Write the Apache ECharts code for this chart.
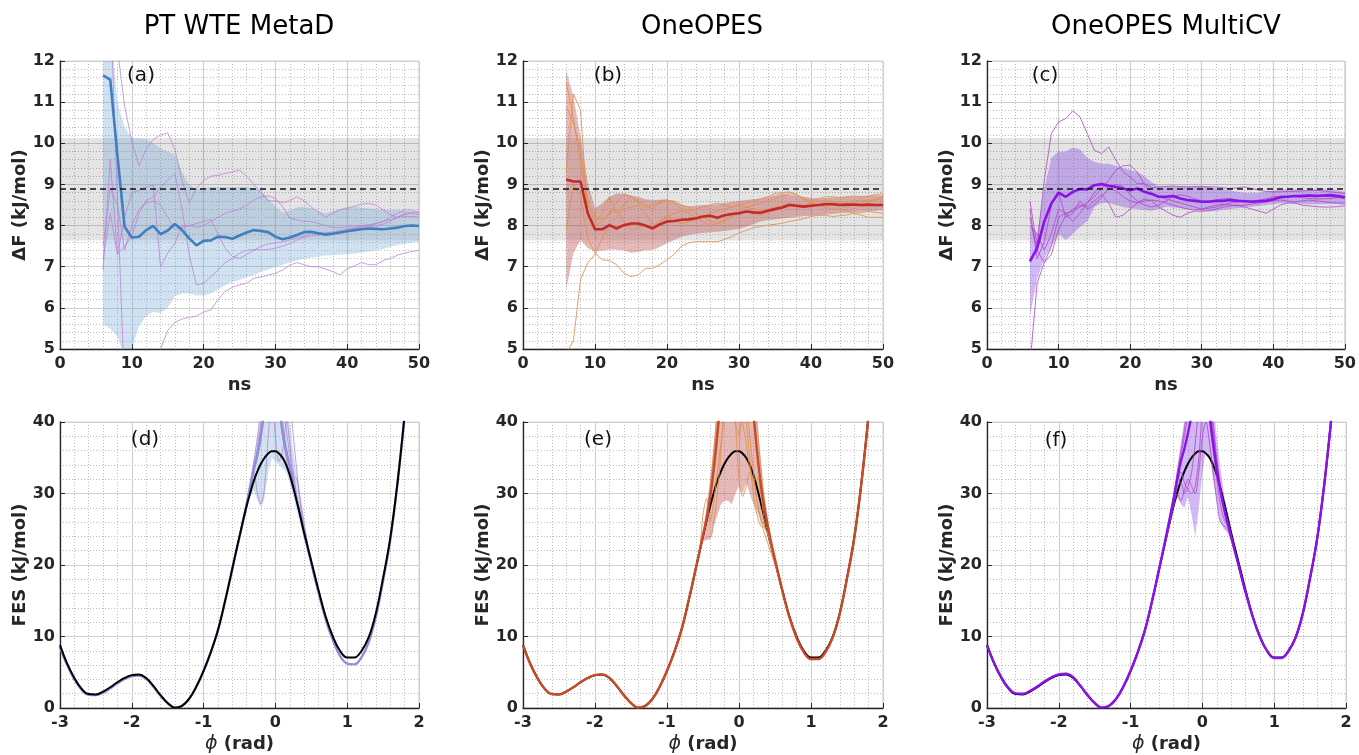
<!DOCTYPE html>
<html><head><meta charset="utf-8">
<script src="https://cdn.jsdelivr.net/npm/echarts@6/dist/echarts.min.js"></script>
<style>html,body{margin:0;padding:0;background:#fff}#c{width:1359px;height:755px}</style>
</head><body><div id="c"></div>
<script>
// ---------- shared axes data ----------
const ns = [6,7,8,9,10,11,12,13,14,15,16,17,18,19,20,21,22,23,24,25,26,27,28,29,30,31,32,33,34,35,36,37,38,39,40,41,42,43,44,45,46,47,48,49,50];
const refDF = 8.89, refDFlo = 7.64, refDFhi = 10.13;
const panelTitles = ['PT WTE MetaD', 'OneOPES', 'OneOPES MultiCV'];
const panelTags = ['(a)', '(b)', '(c)', '(d)', '(e)', '(f)'];

// ---------- panel (a) ----------
const aMean = [11.65,11.55,9.7,7.97,7.71,7.73,7.89,7.99,7.79,7.88,8.04,7.89,7.69,7.52,7.63,7.64,7.73,7.72,7.68,7.76,7.83,7.89,7.87,7.84,7.73,7.67,7.71,7.77,7.84,7.85,7.81,7.78,7.80,7.83,7.86,7.89,7.91,7.93,7.92,7.91,7.93,7.95,7.99,8.00,7.99];
const aLow = [5.6,5.5,5.3,4.8,5.0,5.55,5.8,5.9,5.87,6.0,6.28,6.35,6.35,6.3,6.3,6.35,6.45,6.55,6.62,6.68,6.75,6.8,6.88,6.93,7.0,7.05,7.1,7.15,7.2,7.22,7.25,7.27,7.28,7.29,7.3,7.32,7.34,7.37,7.4,7.43,7.48,7.53,7.56,7.59,7.61];
const aUp = [13,13,11.0,10.4,10.12,10.12,10.1,10.0,9.88,9.8,9.72,9.3,9.0,8.88,8.92,8.94,8.94,8.94,8.94,8.94,8.94,8.92,8.85,8.65,8.46,8.32,8.36,8.44,8.46,8.42,8.34,8.3,8.36,8.4,8.45,8.46,8.44,8.42,8.4,8.38,8.38,8.38,8.36,8.34,8.3];
const aRun1 = [13.5,13.2,12.3,10.9,10.05,9.45,9.85,10.1,10.2,10.25,9.85,9.1,8.55,8.9,9.1,9.2,9.22,9.27,9.3,9.35,9.2,9.0,8.8,8.6,8.6,8.56,8.6,8.7,8.6,8.45,8.33,8.2,8.3,8.38,8.42,8.47,8.52,8.54,8.5,8.38,8.26,8.2,8.26,8.3,8.26];
const aRun2 = [14.5,13.5,8.6,4.0,3.6,3.9,4.3,4.7,5.0,5.45,5.65,5.73,5.77,5.8,5.9,5.95,6.2,6.4,6.5,6.56,6.6,6.72,6.75,6.8,6.84,6.92,7.04,7.1,7.05,7.0,7.0,6.94,6.88,6.8,6.95,7.02,7.1,7.05,7.05,7.15,7.2,7.28,7.33,7.37,7.4];
const aRun3 = [6.92,9.6,7.3,8.2,8.8,8.85,8.94,8.98,7.0,7.33,7.57,8.0,8.0,7.95,8.0,8.1,8.2,8.3,8.35,8.4,8.5,8.62,8.7,8.72,8.66,8.46,8.18,8.14,8.1,8.1,8.05,8.0,7.95,7.95,7.97,8.0,8.0,8.02,8.05,8.1,8.2,8.3,8.38,8.38,8.3];
const aRun4 = [7.2,8.3,7.3,7.5,7.73,8.3,8.6,8.7,8.94,9.1,9.27,8.4,7.3,6.56,6.6,6.75,6.92,7.1,7.2,7.33,7.4,7.42,7.41,7.42,7.45,7.5,7.56,7.65,7.72,7.75,7.77,7.81,7.83,7.85,7.9,7.93,7.96,7.97,8.0,8.03,8.1,8.2,8.3,8.32,8.34];
const aRun5 = [7.5,8.9,8.5,7.4,8.0,8.4,8.55,8.6,8.5,8.2,7.9,7.95,8.0,8.05,8.1,8.15,7.8,7.45,7.25,7.2,7.3,7.4,7.5,7.55,7.58,7.6,7.65,7.7,7.75,7.8,7.82,7.82,7.85,7.88,7.92,7.95,7.98,8.0,8.05,8.1,8.15,8.2,8.22,8.22,8.2];

// ---------- panel (b) ----------
const bMean = [9.12,9.07,9.07,8.3,7.91,7.91,8.01,7.93,8.01,8.05,8.05,8.0,7.93,8.03,8.1,8.11,8.14,8.15,8.18,8.22,8.24,8.19,8.25,8.28,8.3,8.34,8.32,8.31,8.36,8.4,8.44,8.5,8.48,8.46,8.48,8.5,8.52,8.52,8.5,8.51,8.51,8.5,8.51,8.5,8.5];
const bLow = [6.44,7.33,7.65,7.45,7.37,7.39,7.42,7.41,7.4,7.34,7.36,7.4,7.4,7.48,7.57,7.65,7.73,7.77,7.8,7.82,7.84,7.85,7.87,7.89,7.92,7.97,8.03,8.1,8.13,8.15,8.17,8.19,8.21,8.23,8.24,8.25,8.27,8.28,8.3,8.31,8.33,8.34,8.35,8.36,8.38];
const bUp = [11.77,11.13,10.16,9.03,8.42,8.54,8.7,8.78,8.78,8.74,8.7,8.64,8.62,8.63,8.64,8.58,8.5,8.47,8.48,8.5,8.5,8.52,8.55,8.58,8.6,8.62,8.64,8.66,8.7,8.74,8.78,8.76,8.72,8.7,8.67,8.66,8.67,8.68,8.69,8.7,8.7,8.71,8.72,8.73,8.74];
const bRun1 = [11.5,10.6,9.5,8.5,8.1,8.3,8.7,8.3,8.5,8.7,8.6,8.5,8.4,8.6,8.62,8.55,8.4,8.35,8.4,8.45,8.5,8.55,8.5,8.45,8.5,8.55,8.6,8.65,8.7,8.78,8.8,8.82,8.75,8.65,8.6,8.65,8.7,8.7,8.68,8.7,8.72,8.7,8.72,8.75,8.78];
const bRun2 = [4.9,5.2,6.7,7.1,7.3,7.7,8.0,8.2,8.4,8.45,8.5,8.3,8.0,8.1,8.2,8.15,8.05,8.1,8.15,8.2,8.3,8.35,8.4,8.45,8.5,8.45,8.4,8.38,8.4,8.45,8.5,8.55,8.5,8.5,8.55,8.6,8.6,8.58,8.55,8.55,8.6,8.62,8.6,8.65,8.7];
const bRun3 = [7.9,9.0,8.7,7.7,7.33,7.17,7.15,7.05,6.85,6.76,6.8,6.96,6.96,7.05,7.17,7.3,7.5,7.58,7.61,7.61,7.61,7.61,7.66,7.73,7.82,7.88,7.95,7.98,8.01,8.03,8.06,8.1,8.13,8.17,8.22,8.25,8.25,8.22,8.24,8.26,8.3,8.32,8.34,8.32,8.3];
const bRun4 = [10.9,10.5,9.8,8.6,8.2,8.15,8.3,8.55,8.75,8.7,8.55,8.45,8.5,8.55,8.6,8.6,8.5,8.45,8.3,8.2,8.1,8.05,8.1,8.2,8.3,8.35,8.3,8.25,8.3,8.4,8.45,8.5,8.45,8.45,8.5,8.5,8.45,8.4,8.4,8.35,8.3,8.25,8.2,8.2,8.2];
const bRun5 = [9.3,11.2,10.8,8.2,8.0,8.1,8.3,8.4,8.1,7.9,7.95,8.0,7.95,8.1,8.2,8.3,8.35,8.3,8.2,8.1,8.0,8.05,8.15,8.25,8.35,8.45,8.5,8.55,8.6,8.65,8.7,8.8,8.75,8.65,8.55,8.5,8.55,8.55,8.5,8.45,8.5,8.55,8.6,8.62,8.65];

// ---------- panel (c) ----------
const cMean = [7.13,7.45,8.1,8.54,8.8,8.7,8.82,8.89,8.88,8.98,9.01,8.97,8.94,8.9,8.86,8.9,8.82,8.77,8.7,8.7,8.72,8.66,8.62,8.6,8.58,8.58,8.6,8.6,8.62,8.6,8.59,8.58,8.59,8.6,8.64,8.69,8.7,8.72,8.72,8.73,8.72,8.73,8.74,8.72,8.69];
const cLow = [5.8,6.7,7.2,7.5,7.8,7.65,7.8,7.97,8.1,8.45,8.55,8.55,8.5,8.45,8.42,8.4,8.38,8.36,8.4,8.46,8.44,8.42,8.4,8.38,8.36,8.35,8.36,8.38,8.4,8.42,8.44,8.46,8.48,8.5,8.52,8.54,8.54,8.53,8.53,8.52,8.52,8.52,8.52,8.52,8.5];
const cUp = [8.0,7.8,8.9,9.65,9.8,9.8,9.9,9.85,9.65,9.55,9.5,9.5,9.45,9.4,9.35,9.3,9.2,9.05,8.95,8.95,8.95,8.95,8.95,8.97,8.97,8.95,8.9,8.88,8.85,8.82,8.8,8.8,8.8,8.82,8.85,8.87,8.88,8.88,8.87,8.87,8.88,8.88,8.88,8.86,8.82];
const cRun1 = [8.6,7.5,9.1,10.24,10.52,10.6,10.79,10.64,10.24,9.83,9.75,9.91,9.59,9.31,9.18,9.02,9.02,8.92,8.94,8.95,8.96,8.95,8.94,8.94,8.94,8.94,8.94,8.92,8.9,8.92,8.94,8.9,8.86,8.83,8.82,8.82,8.83,8.83,8.84,8.85,8.86,8.84,8.82,8.8,8.78];
const cRun2 = [4.6,6.6,7.1,7.5,8.2,8.3,8.35,8.45,8.55,8.7,8.9,9.1,9.35,9.45,9.47,9.3,9.0,8.8,8.7,8.65,8.6,8.55,8.5,8.45,8.4,8.42,8.45,8.5,8.55,8.58,8.6,8.6,8.62,8.65,8.7,8.72,8.72,8.7,8.68,8.66,8.65,8.65,8.66,8.68,8.7];
const cRun3 = [8.2,7.4,7.1,7.3,7.9,8.25,8.4,8.5,8.45,8.6,8.75,8.55,8.2,8.25,8.4,8.55,8.65,8.6,8.45,8.35,8.25,8.2,8.3,8.35,8.35,8.36,8.4,8.45,8.48,8.5,8.45,8.4,8.35,8.3,8.4,8.5,8.55,8.55,8.5,8.48,8.46,8.45,8.45,8.46,8.48];
const cRun4 = [8.4,7.2,7.6,8.5,8.8,8.2,8.3,8.6,8.4,8.5,8.7,8.9,9.0,8.95,8.75,8.6,8.5,8.45,8.5,8.6,8.7,8.75,8.72,8.65,8.6,8.6,8.62,8.65,8.66,8.62,8.6,8.58,8.6,8.62,8.65,8.68,8.7,8.72,8.74,8.75,8.74,8.72,8.7,8.68,8.65];
const cRun5 = [8.0,7.8,7.4,7.8,8.4,8.3,8.1,8.3,8.55,8.8,9.0,8.9,8.85,8.7,8.6,8.55,8.6,8.62,8.6,8.55,8.5,8.45,8.4,8.38,8.4,8.45,8.5,8.52,8.5,8.48,8.5,8.52,8.55,8.58,8.6,8.62,8.6,8.58,8.6,8.62,8.6,8.58,8.56,8.55,8.55];

// ---------- FES panels (d,e,f) ----------
const phi = [-3.0,-2.9,-2.8,-2.7,-2.6,-2.5,-2.4,-2.3,-2.2,-2.1,-2.0,-1.9,-1.8,-1.7,-1.6,-1.5,-1.4,-1.3,-1.2,-1.1,-1.0,-0.9,-0.8,-0.7,
  -0.6,-0.55,-0.5,-0.45,-0.4,-0.35,-0.3,-0.25,-0.2,-0.15,-0.1,-0.05,0,0.05,0.1,0.15,0.2,0.25,0.3,0.35,0.4,0.45,0.5,0.55,0.6,
  0.7,0.8,0.9,1.0,1.1,1.2,1.3,1.4,1.5,1.6,1.7,1.8,1.9,2.0];
const phiPeak = [-0.6,-0.55,-0.5,-0.45,-0.4,-0.35,-0.3,-0.25,-0.2,-0.15,-0.1,-0.05,0,0.05,0.1,0.15,0.2,0.25,0.3,0.35,0.4,0.45,0.5,0.55,0.6];
const fesRef = [8.8,6.2,4.2,2.7,1.95,1.9,2.3,2.9,3.6,4.2,4.6,4.7,4.2,3.1,1.8,0.7,0.05,0.3,1.3,3.0,5.2,7.8,10.9,15.0,
  19.5,21.8,24.0,26.2,28.3,30.1,31.8,33.1,34.2,35.0,35.6,35.9,35.9,35.6,35.0,34.0,32.6,30.8,28.8,26.7,24.5,22.5,20.5,18.5,16.5,
  12.8,10.0,8.0,7.05,7.05,8.0,9.9,13.3,18.2,23.8,31.5,41,52,65];

const dMean = [8.5,6.0,4.0,2.55,1.85,1.8,2.15,2.75,3.45,4.05,4.45,4.55,4.1,3.0,1.7,0.65,0.05,0.3,1.3,3.0,5.2,7.8,10.9,15.0,
  19.4,21.7,23.9,26.2,28.5,31.0,33.5,35.5,38.5,42,46,48,46,43,38.5,36.0,33.8,31.3,29.0,26.8,24.6,22.4,20.3,18.2,16.2,
  12.4,9.5,7.3,6.2,6.1,7.1,9.2,12.8,17.8,23.5,31.3,41,52,65];
const dLow = [19.0,21.3,23.5,25.7,27.7,29.5,30.5,29.0,28.0,29.5,33,35,34.5,34,33.5,33,31.5,29.5,27.5,25.5,23.5,21.6,19.7,17.7,15.8];
const dUp = [19.8,22.2,24.5,26.8,29.2,32,35,38,42,47,52,55,56,54,50,44,40,36,32.5,29,25.8,23.2,20.9,18.7,16.6];
const dRun1 = [19.3,21.6,23.8,26.0,28.2,30.5,33.0,30.0,28.5,31.0,38.0,44,48,46,43,39,35.5,32.0,28.8,26.5,24.3,22.3,20.3,18.3,16.3];
const dRun2 = [19.5,21.8,24.0,26.3,28.6,31.0,33.5,36.5,40,44,48,50,48,44,40,36.5,33.5,32.5,32.0,29.0,26.0,23.0,20.5,18.3,16.4];
const dRun3 = [19.6,21.9,24.2,26.5,29.0,31.5,34.5,38,42,46,50,46,38,34.5,36,40,42,38,33,28.5,25.0,22.5,20.2,18.0,16.0];
const dRun4 = [19.4,21.7,24.0,26.2,28.4,30.8,33.2,35.8,38.5,42,46,52,55,52,47,42,37,33.0,29.5,26.8,24.5,22.2,20.0,17.9,15.9];
const dRun5 = [19.5,21.9,24.1,26.4,28.6,31.0,33.0,35.0,37.5,41,45,49,47,42,38,35,32.5,30.5,29.0,27.0,24.8,22.6,20.4,18.2,16.2];

const eMean = [8.8,6.2,4.2,2.7,1.95,1.9,2.3,2.9,3.6,4.2,4.6,4.7,4.2,3.1,1.8,0.7,0.05,0.3,1.3,3.0,5.2,7.8,10.9,15.0,
  19.5,21.8,24.2,26.5,29.5,33.5,38.5,44,49,52,53,53,52,50,47,44,41,36,31.5,28.2,25.5,23.0,20.8,18.6,16.5,
  12.7,9.8,7.8,6.85,6.85,7.8,9.8,13.2,18.1,23.7,31.4,41,52,65];
const eLow = [19.2,21.4,23.3,23.5,23.6,25.5,27,28.5,29,29,28.5,30,31,30,31.5,30,28.5,27.5,26.2,25.3,24.2,22.2,20.2,18.2,16.2];
const eUp = [19.8,22.2,24.8,28,32,37,43,49,54,58,60,60,58,55,50,47,44,40,35,30,26.5,23.2,20.8,18.7,16.7];
const eRun1 = [19.4,21.7,27.0,29.3,26,29,33,37,41,45,46,40,32,29.6,31,33,32,29,26.5,25.5,24.2,22.3,20.4,18.4,16.4];
const eRun2 = [19.5,21.8,23.5,24.0,23.8,26,30,36,43,48,52,50,45,40,37,33.5,31.8,32.3,30,26.5,24.6,22.5,20.5,18.5,16.5];
const eRun3 = [19.6,21.9,24.2,27,30,34,39,45,50,54,56,54,50,45,40,35,30,27,25.5,25.2,24.4,22.4,20.4,18.4,16.4];
const eRun4 = [19.5,21.8,24.1,26.6,29.5,33,37,42,46,47,44,40,38,42,46,48,45,40,34,29,25.5,22.7,20.5,18.5,16.5];
const eRun5 = [19.5,21.9,24.3,27.2,31,36,42,48,53,56,58,56,53,48,43,38,33,29,26.5,24.5,23.0,21.5,20.0,18.2,16.3];

const fMean = [8.8,6.3,4.3,2.8,2.05,2.0,2.4,3.0,3.7,4.3,4.7,4.8,4.3,3.1,1.8,0.7,0.05,0.3,1.3,3.0,5.2,7.8,10.9,15.0,
  19.6,21.9,24.3,26.8,29.3,32.0,34.5,36.3,38.5,41,44,46,47,45,41,37,33.5,30.5,28.0,26.0,24.0,22.0,20.1,18.1,16.2,
  12.8,10.0,8.0,7.0,7.0,8.0,9.9,13.3,18.2,23.8,31.5,41,52,65];
const fLow = [19.2,21.5,23.8,26.2,28.5,29.5,28.5,28.0,29.5,27,24,28,33,36,35,32,29,26,25,24.5,23.3,21.6,19.8,17.8,15.9];
const fUp = [19.8,22.2,24.6,27.2,30,33.5,37,40.5,45,50,54,56,56,53,48,43,38,33.5,30,27,24.7,22.4,20.4,18.4,16.4];
const fRun1 = [19.5,21.8,24.0,26.3,28.6,31.0,31.5,30.0,31.0,33,37,42,46,44,40,36,32,28.5,26.5,25.5,24.0,22.0,20.0,18.0,16.1];
const fRun2 = [19.4,21.6,23.8,26.0,28.2,30.0,29.0,30.5,32,31,30,33,38,40,37,33,29,26,25.5,25,23.5,21.8,19.9,17.9,16.0];
const fRun3 = [19.6,22.0,24.5,27.0,29.8,33,36,39,43,48,52,54,53,49,44,39,34,30,27.5,25.5,23.8,21.9,20.0,18.0,16.1];
const fRun4 = [19.5,21.8,24.1,26.5,29.0,31.5,33.0,31.5,30.5,30.0,31,35,42,47,45,40,35,31,28,26,24.2,22.1,20.1,18.1,16.2];
const fRun5 = [19.5,21.9,24.2,26.7,29.2,32,35,38,41,45,49,51,50,46,42,38,34,30.5,27.8,25.8,23.9,22.0,20.0,18.0,16.1];

// ---------- build ----------
const FONT = "'DejaVu Sans', sans-serif";
const AX = '#262626';
const pairs = (xs, ys) => xs.map((x, i) => [x, ys[i]]);

const colL = [60, 523, 987], colW = [359, 360, 359];
const rowT = [61, 422], rowH = [288, 287];
const grids = [];
for (let r = 0; r < 2; r++) for (let c = 0; c < 3; c++)
  grids.push({left: colL[c], top: rowT[r], width: colW[c], height: rowH[r], show: true,
    borderColor: '#d2d2d2', borderWidth: 1, backgroundColor: 'transparent'});

function axisBase(gi, min, max, interval) {
  return {
    type: 'value', gridIndex: gi, min: min, max: max, interval: interval,
    nameLocation: 'middle',
    nameTextStyle: {fontFamily: FONT, fontWeight: 'bold', fontSize: 18, color: AX},
    axisLine: {show: true, onZero: false, lineStyle: {color: AX, width: 1.3}},
    axisTick: {show: true, inside: true, length: 5, lineStyle: {color: AX, width: 1}},
    axisLabel: {fontFamily: FONT, fontWeight: 'bold', fontSize: 16, color: AX},
    splitLine: {show: true, lineStyle: {color: '#d0d0d0', width: 1.2}},
    minorTick: {show: false, splitNumber: 5},
    minorSplitLine: {show: true, lineStyle: {color: '#bcbcbc', width: 1, type: [1, 2]}}
  };
}
const xAxes = [], yAxes = [];
for (let gi = 0; gi < 6; gi++) {
  const top = gi < 3;
  const xa = axisBase(gi, top ? 0 : -3, top ? 50 : 2, top ? 10 : 1);
  xa.axisLabel.margin = 7;
  xa.nameGap = 27;
  if (top) { xa.name = 'ns'; }
  else {
    xa.name = '{i|ϕ} (rad)';
    xa.nameTextStyle.rich = {i: {fontFamily: FONT, fontStyle: 'italic', fontWeight: 'normal', fontSize: 19, color: AX}};
  }
  xAxes.push(xa);
  const ya = axisBase(gi, top ? 5 : 0, top ? 12 : 40, top ? 1 : 10);
  ya.axisLabel.margin = 5;
  ya.nameGap = 29;
  ya.name = top ? 'ΔF (kJ/mol)' : 'FES (kJ/mol)';
  yAxes.push(ya);
}

// shaded band between two curves, drawn as one polygon through the axis scales
function bandSeries(gi, xs, lo, hi, color) {
  return {
    type: 'custom', xAxisIndex: gi, yAxisIndex: gi, clip: true, silent: true, z: 2,
    data: xs.map((x, i) => [x, lo[i], hi[i]]),
    encode: {x: 0, y: [1, 2]},
    renderItem: function (params, api) {
      if (params.dataIndex !== 0) return null;
      const pts = [];
      for (let i = 0; i < xs.length; i++) pts.push(api.coord([xs[i], hi[i]]));
      for (let i = xs.length - 1; i >= 0; i--) pts.push(api.coord([xs[i], lo[i]]));
      const cs = params.coordSys;
      return {type: 'group', children: [{type: 'polygon', shape: {points: pts}, style: {fill: color}}],
        clipPath: {type: 'rect', shape: {x: cs.x, y: cs.y, width: cs.width, height: cs.height}}};
    }
  };
}

const series = [];
function addTop(gi, mean, lo, hi, runs, col) {
  series.push(bandSeries(gi, ns, lo, hi, col.band));
  runs.forEach(r => series.push({type: 'line', xAxisIndex: gi, yAxisIndex: gi, data: pairs(ns, r),
    symbol: 'none', lineStyle: {color: col.run, width: 1}, z: 3}));
  series.push({type: 'line', xAxisIndex: gi, yAxisIndex: gi, data: pairs(ns, mean),
    symbol: 'none', lineStyle: {color: col.mean, width: 2.6}, z: 4,
    markArea: {silent: true, itemStyle: {color: 'rgba(0,0,0,0.105)'}, data: [[{yAxis: refDFlo}, {yAxis: refDFhi}]]},
    markLine: {silent: true, symbol: 'none', label: {show: false},
      lineStyle: {color: '#111', type: [6, 4], width: 1.5}, data: [{yAxis: refDF}]}});
}
function addBottom(gi, mean, lo, hi, runs, col, refOnTop) {
  series.push(bandSeries(gi, phiPeak, lo, hi, col.band));
  series.push({type: 'line', xAxisIndex: gi, yAxisIndex: gi, data: pairs(phi, fesRef),
    symbol: 'none', smooth: 0.4, lineStyle: {color: '#000', width: 2}, z: refOnTop ? 5 : 3});
  runs.forEach(r => series.push({type: 'line', xAxisIndex: gi, yAxisIndex: gi, data: pairs(phiPeak, r),
    symbol: 'none', smooth: 0.3, lineStyle: {color: col.run, width: 1}, z: 3}));
  series.push({type: 'line', xAxisIndex: gi, yAxisIndex: gi, data: pairs(phi, mean),
    symbol: 'none', smooth: 0.4, lineStyle: {color: col.mean, width: 2.4}, z: 4});
}

addTop(0, aMean, aLow, aUp, [aRun1, aRun2, aRun3, aRun4, aRun5],
  {band: 'rgba(100,160,210,0.30)', run: 'rgba(190,125,210,0.75)', mean: '#3f7fc0'});
addTop(1, bMean, bLow, bUp, [bRun1, bRun2, bRun3, bRun4, bRun5],
  {band: 'rgba(190,70,70,0.38)', run: 'rgba(222,145,75,0.85)', mean: '#c22a2a'});
addTop(2, cMean, cLow, cUp, [cRun1, cRun2, cRun3, cRun4, cRun5],
  {band: 'rgba(140,80,230,0.40)', run: 'rgba(175,70,195,0.8)', mean: '#8a12e8'});
addBottom(3, dMean, dLow, dUp, [dRun1, dRun2, dRun3, dRun4, dRun5],
  {band: 'rgba(100,160,210,0.30)', run: 'rgba(175,120,210,0.7)', mean: '#8f8fd8'}, true);
addBottom(4, eMean, eLow, eUp, [eRun1, eRun2, eRun3, eRun4, eRun5],
  {band: 'rgba(190,70,70,0.38)', run: 'rgba(222,145,75,0.85)', mean: '#c84a28'}, false);
addBottom(5, fMean, fLow, fUp, [fRun1, fRun2, fRun3, fRun4, fRun5],
  {band: 'rgba(140,80,230,0.40)', run: 'rgba(175,70,195,0.8)', mean: '#8a12e8'}, false);

const titleX = [239, 702, 1166];
const tagPos = [[141, 76], [608, 76], [1045, 76], [145, 440], [598, 440], [1056, 441]];
const graphic = [];
panelTitles.forEach((t, i) => graphic.push({type: 'text', x: titleX[i], y: 27, z: 100,
  style: {text: t, font: 'normal 26px "DejaVu Sans"', fill: '#000', textAlign: 'center', textVerticalAlign: 'middle', align: 'center', verticalAlign: 'middle'}}));
panelTags.forEach((t, i) => graphic.push({type: 'text', x: tagPos[i][0], y: tagPos[i][1], z: 100,
  style: {text: t, font: 'normal 20px "DejaVu Sans"', fill: '#111', textAlign: 'center', textVerticalAlign: 'middle', align: 'center', verticalAlign: 'middle'}}));

const chart = echarts.init(document.getElementById('c'), null, {renderer: 'canvas'});
chart.setOption({
  animation: false,
  backgroundColor: '#fff',
  grid: grids, xAxis: xAxes, yAxis: yAxes,
  series: series,
  graphic: graphic
});
</script></body></html>
